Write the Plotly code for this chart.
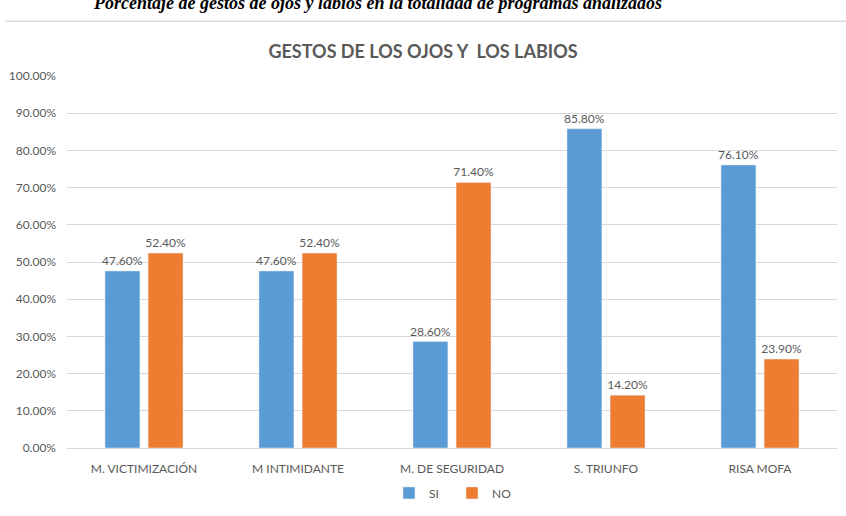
import plotly.graph_objects as go

categories = ["M. VICTIMIZACIÓN", "M INTIMIDANTE", "M. DE SEGURIDAD", "S. TRIUNFO", "RISA MOFA"]
si_values = [47.6, 47.6, 28.6, 85.8, 76.1]
no_values = [52.4, 52.4, 71.4, 14.2, 23.9]
tick_vals = [0, 10, 20, 30, 40, 50, 60, 70, 80, 90, 100]
tick_text = [f"{v:.2f}%" for v in tick_vals]

W, H = 846, 516
ml, mr, mt, mb = 62, 9, 76, 67
ph = H - mt - mb
pw = W - ml - mr

font_main = "Lato, 'Open Sans', sans-serif"
grey = "#595959"

fig = go.Figure()
fig.add_trace(go.Bar(
    name="SI", x=categories, y=si_values, marker_color="#5B9BD5",
    text=[f"{v:.2f}%" for v in si_values], textposition="outside",
    constraintext="none", textangle=0,
    textfont=dict(size=12, color=grey, family=font_main), cliponaxis=False,
))
fig.add_trace(go.Bar(
    name="NO", x=categories, y=no_values, marker_color="#ED7D31",
    text=[f"{v:.2f}%" for v in no_values], textposition="outside",
    constraintext="none", textangle=0,
    textfont=dict(size=12, color=grey, family=font_main), cliponaxis=False,
))

fig.update_layout(
    width=W, height=H,
    margin=dict(l=ml, r=mr, t=mt, b=mb, pad=0),
    paper_bgcolor="white", plot_bgcolor="white",
    barmode="group", bargap=0.44, bargroupgap=0.19,
    font=dict(family=font_main, color=grey, size=12),
    title=dict(text="GESTOS DE LOS OJOS Y  LOS LABIOS", x=0.5, xanchor="center",
               y=1 - 52 / H, yanchor="middle",
               font=dict(size=18, color=grey, family=font_main, weight="bold")),
    showlegend=True,
    legend=dict(orientation="h", x=0.5, xanchor="center",
                y=-(494 - (H - mb)) / ph, yanchor="middle",
                font=dict(size=12, color=grey), itemwidth=30,
                entrywidth=18, entrywidthmode="pixels", traceorder="normal"),
    xaxis=dict(showline=True, linecolor="#D9D9D9", linewidth=1, ticks="",
               ticklabelstandoff=10,
               tickfont=dict(size=12, color=grey)),
    yaxis=dict(range=[0, 100], tickvals=tick_vals, ticktext=tick_text,
               showgrid=True, gridcolor="#D9D9D9", gridwidth=1,
               zeroline=False, showline=False, ticks="", ticklabelstandoff=10,
               tickfont=dict(size=12, color=grey)),
)

# chart border line at top
fig.add_shape(type="line", xref="paper", yref="paper",
              x0=-ml / pw, x1=(W - ml) / pw,
              y0=(H - mb - 21) / ph, y1=(H - mb - 21) / ph,
              line=dict(color="#D9D9D9", width=1.5))

# caption cut off at top of picture
fig.add_annotation(
    text="<b><i>Porcentaje de gestos de ojos y labios en la totalidad de programas analizados</i></b>",
    xref="paper", yref="paper", x=(375 - ml) / pw, y=(H - mb - 2.5) / ph,
    xanchor="center", yanchor="middle", showarrow=False,
    font=dict(family="'Liberation Serif', 'Times New Roman', serif", size=18, color="black"),
)

fig.write_html("out.html")
